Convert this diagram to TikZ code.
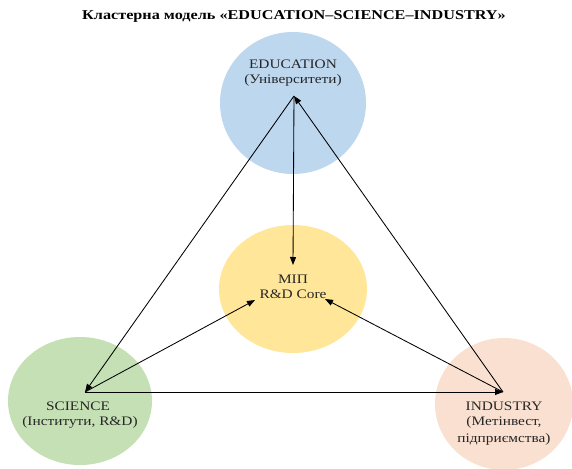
\documentclass[tikz,border=0pt]{standalone}
\usepackage{graphicx}
\usepackage{fontspec}
\setmainfont{Liberation Serif}
\usetikzlibrary{shapes.geometric,arrows.meta}
\definecolor{edublue}{HTML}{BDD7EE}
\definecolor{mipyellow}{HTML}{FFE699}
\definecolor{scigreen}{HTML}{C5E0B4}
\definecolor{indpeach}{HTML}{FAE0D0}
\newcommand{\hstretch}[1]{\scalebox{1.18}[1]{#1}}
\tikzset{
  blob/.style={ellipse, draw=none, inner sep=0pt},
  lbl/.style={font=\fontsize{13}{15}\selectfont, text=black!85, align=center, inner sep=0pt},
  link/.style={line width=0.85pt, -{Triangle[length=8pt,width=6pt]}}
}
\begin{document}
\begin{tikzpicture}[x=1pt,y=-1pt]
\useasboundingbox (0,0) rectangle (572,468);
\node[font=\bfseries\fontsize{13.5}{15}\selectfont, inner sep=0pt] (title) at (294,16) {\scalebox{1.2}[1]{Кластерна модель «EDUCATION–SCIENCE–INDUSTRY»}};
% circles
\node[blob, fill=edublue, minimum width=146pt, minimum height=142pt] (edu) at (293,103) {};
\node[blob, fill=mipyellow, minimum width=148pt, minimum height=128pt] (mip) at (293,289) {};
\node[blob, fill=scigreen, minimum width=144pt, minimum height=128pt] (sci) at (80,401) {};
\node[blob, fill=indpeach, minimum width=138pt, minimum height=132pt] (ind) at (504,404) {};
% labels
\node[lbl] (edut1) at (293,64) {\hstretch{EDUCATION}};
\node[lbl] (edut2) at (293,80) {\hstretch{(Університети)}};
\node[lbl] (mipt1) at (293,279) {\hstretch{МІП}};
\node[lbl] (mipt2) at (293,294) {\hstretch{R\&D Core}};
\node[lbl] (scit1) at (78,406) {\hstretch{SCIENCE}};
\node[lbl] (scit2) at (80,422) {\hstretch{(Інститути, R\&D)}};
\node[lbl] (indt1) at (504,406) {\hstretch{INDUSTRY}};
\node[lbl] (indt2) at (504,422) {\hstretch{(Метінвест,}};
\node[lbl] (indt3) at (504,439) {\hstretch{підприємства)}};
% hubs
\coordinate (hE) at (294,96);
\coordinate (hS) at (85,392);
\coordinate (hI) at (503,392);
\coordinate (mT) at (293,265);
\coordinate (mL) at (255,300);
\coordinate (mR) at (325,299);
% connectors
\draw[link] (hE) -- (hS);
\draw[link] (hS) -- (hI);
\draw[link] (hI) -- (hE);
\draw[link] (hE) -- (mT);
\draw[link] (hS) -- (mL);
\draw[link] (hI) -- (mR);
\end{tikzpicture}
\end{document}
